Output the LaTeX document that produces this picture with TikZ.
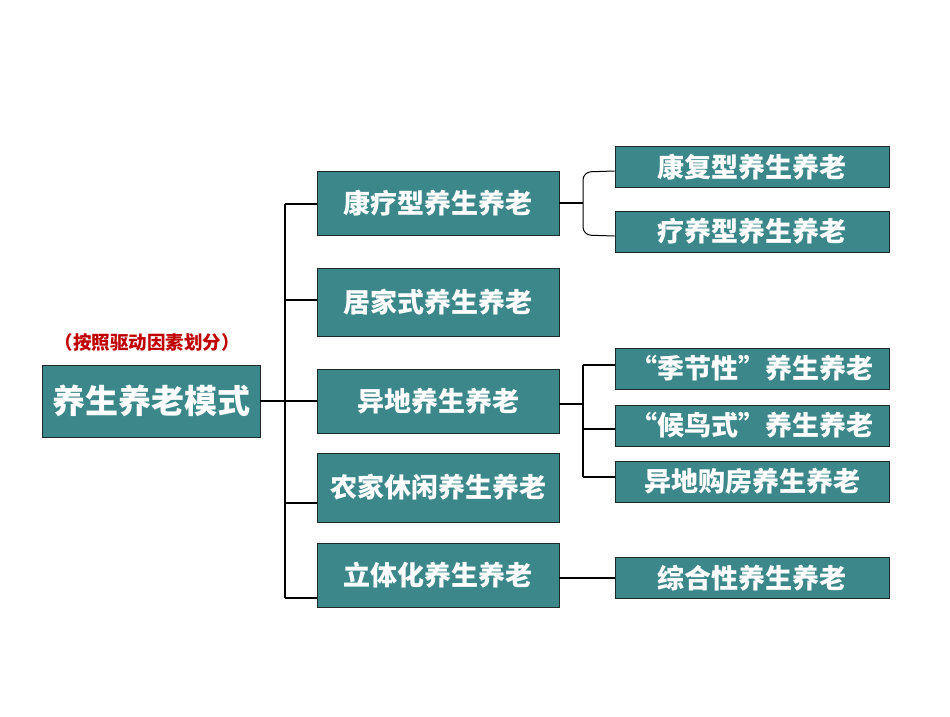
\documentclass[tikz,border=0pt]{standalone}
\usepackage{fontspec}
\setmainfont{Noto Sans CJK SC}
\usetikzlibrary{calc}
\definecolor{boxfill}{HTML}{3B878A}
\definecolor{boxline}{HTML}{1E2A2A}
\definecolor{labred}{HTML}{C00000}
\begin{document}
\begin{tikzpicture}[x=1pt,y=-1pt,
  box/.style={draw=boxline,line width=0.9pt,fill=boxfill,text=white,font=\bfseries,inner sep=0pt,anchor=center},
  lvtwo/.style={box,minimum width=242pt,font=\fontsize{27}{29}\selectfont\bfseries},
  lvthree/.style={box,minimum width=274pt,minimum height=41pt,font=\fontsize{27}{29}\selectfont\bfseries},
  conn/.style={line width=1.1pt,draw=black}]
\useasboundingbox (0,0) rectangle (950,716);
\node[box,minimum width=218pt,minimum height=72pt,font=\fontsize{33}{35}\selectfont\bfseries] (m) at (151,401) {养生养老模式};
\node[text=labred,font=\fontsize{18.5}{20}\selectfont\bfseries] (lab) at (147,342) {（按照驱动因素划分）};
\node[lvtwo,minimum height=64pt] (k1) at (438,203) {康疗型养生养老};
\node[lvtwo,minimum height=68pt] (k2) at (438,302) {居家式养生养老};
\node[lvtwo,minimum height=64pt] (k3) at (438,401) {异地养生养老};
\node[lvtwo,minimum height=69pt] (k4) at (438,487.5) {农家休闲养生养老};
\node[lvtwo,minimum height=64pt] (k5) at (438,575) {立体化养生养老};
\node[lvthree] (c1) at (752,167) {康复型养生养老};
\node[lvthree] (c2) at (752,231.5) {疗养型养生养老};
\node[lvthree] (c3) at (752,368.5) {“季节性”养生养老};
\node[lvthree] (c4) at (752,425.5) {“候鸟式”养生养老};
\node[lvthree] (c5) at (752,481.5) {异地购房养生养老};
\node[lvthree] (c6) at (752,578) {综合性养生养老};
\coordinate (t) at (285,401);
\coordinate (u) at (583,401);
% trunk
\draw[conn] (m.east) -- (k3.west);
\draw[conn] (t |- 0,204) -- (t |- 0,598);
\draw[conn] (t |- 0,204) -- (k1.west |- 0,204);
\draw[conn] (t |- 0,300) -- (k2.west |- 0,300);
\draw[conn] (t |- 0,503) -- (k4.west |- 0,503);
\draw[conn] (t |- 0,598) -- (k5.west |- 0,598);
% bracket for k1
\draw[conn] (k1.east) -- (u |- k1.east);
\draw[conn,line width=1pt,rounded corners=8pt] (c1.west |- 0,171) -- (u |- 0,172) -- (u |- 0,235) -- (c2.west |- 0,236);
% k3 children
\draw[conn] (k3.east |- 0,404) -- (u |- 0,404);
\draw[conn] (u |- 0,365) -- (u |- 0,477);
\draw[conn] (u |- 0,365) -- (c3.west |- 0,365);
\draw[conn] (u |- 0,429) -- (c4.west |- 0,429);
\draw[conn] (u |- 0,477) -- (c5.west |- 0,477);
% k5 child
\draw[conn] (k5.east |- c6.west) -- (c6.west);
\end{tikzpicture}
\end{document}
